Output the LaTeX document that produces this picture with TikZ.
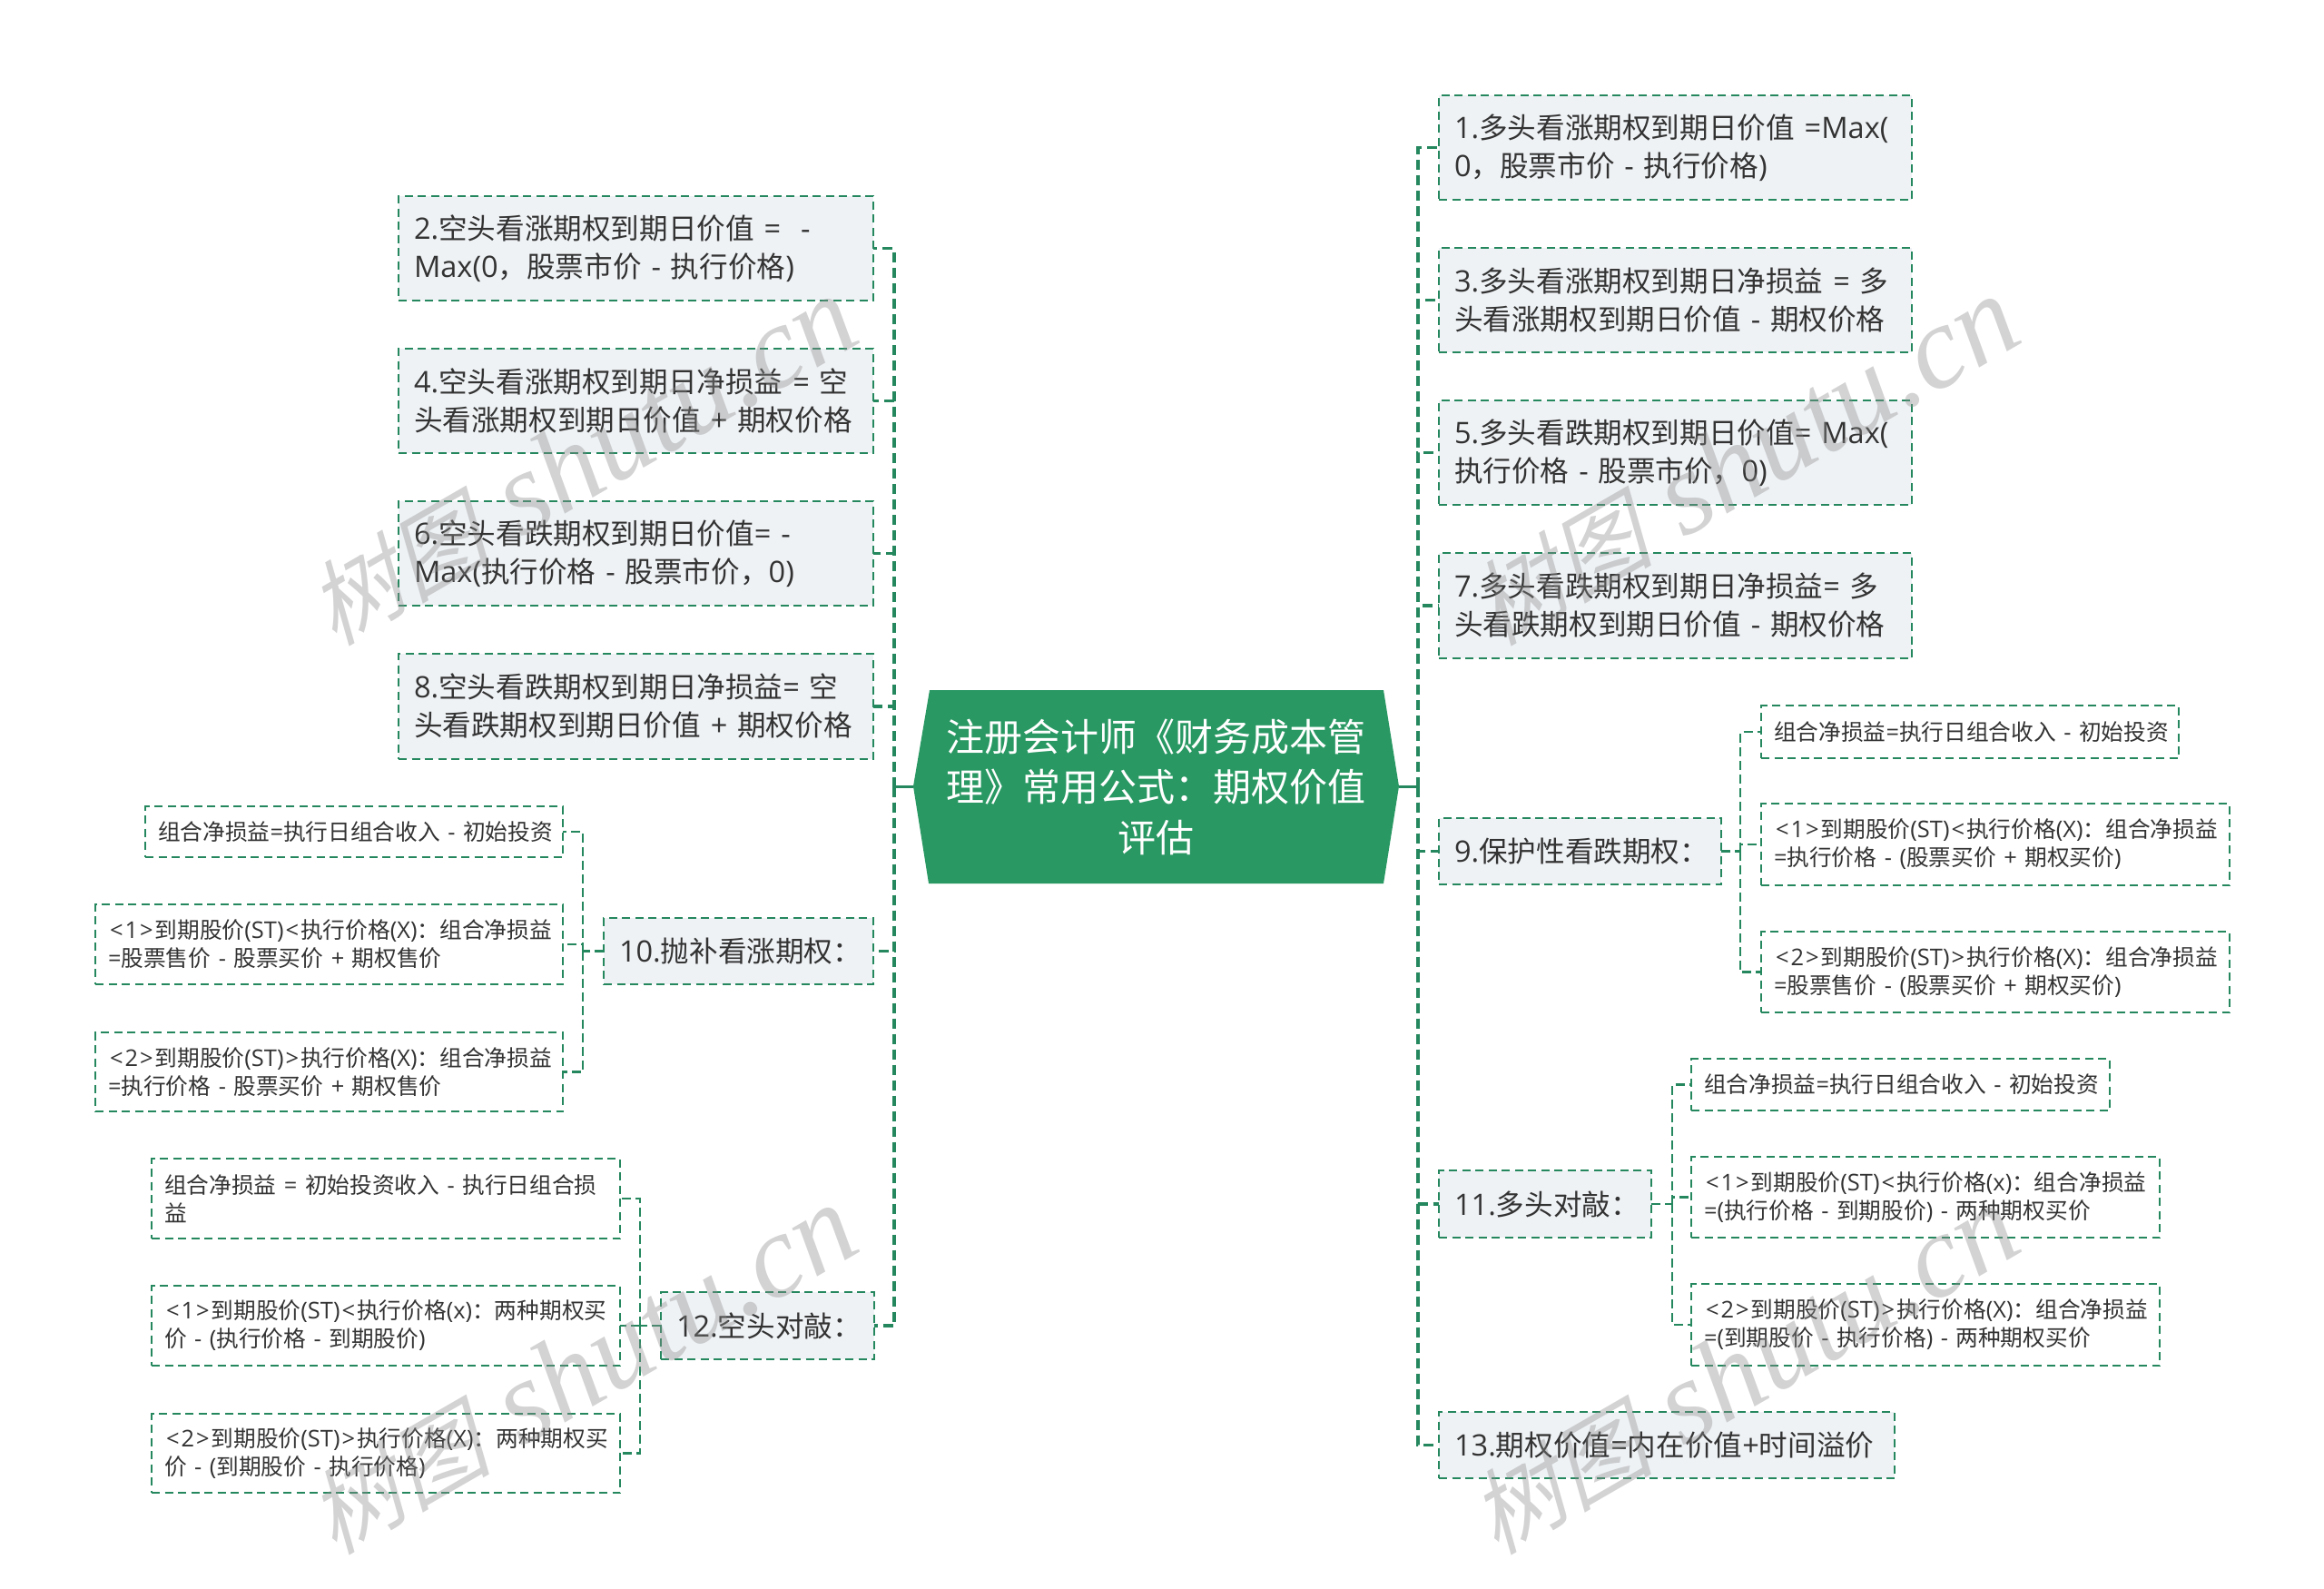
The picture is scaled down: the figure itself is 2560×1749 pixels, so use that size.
\documentclass[tikz,border=0pt]{standalone}
\usepackage{fontspec}
\setmainfont{Open Sans}[Scale=1.03]
\newfontfamily\cjkf{Noto Sans CJK SC}
\newfontfamily\latf{Open Sans}[Scale=1.03]
\newfontfamily\wmcjk[FakeSlant=0.25,Scale=0.78]{Noto Sans CJK SC}
\newfontfamily\wmlat{Liberation Serif}[ItalicFont=Liberation Serif Italic]
\XeTeXinterchartokenstate=1
\newXeTeXintercharclass\cjkclass
\newcount\cjkloop
\def\cjkrange#1#2{\cjkloop=#1 \loop\XeTeXcharclass\cjkloop=\cjkclass \ifnum\cjkloop<#2 \advance\cjkloop by 1 \repeat}
\cjkrange{"3000}{"303F}
\cjkrange{"4E00}{"9FFF}
\cjkrange{"FF00}{"FFEF}
\XeTeXinterchartoks 0 \cjkclass={\cjkf}
\XeTeXinterchartoks 4095 \cjkclass={\cjkf}
\XeTeXinterchartoks \cjkclass 0={\latf}
\XeTeXinterchartoks 4095 0={\latf}
\newcommand\LT{\kern2pt<\kern2pt}
\newcommand\GT{\kern2pt>\kern2pt}
\definecolor{tgreen}{HTML}{299863}
\definecolor{dgreen}{HTML}{25875E}
\definecolor{bfill}{HTML}{EFF2F5}
\definecolor{ink}{HTML}{333333}
\tikzset{
  anybox/.style={draw=dgreen,line width=2.4pt,dash pattern=on 9pt off 5.5pt,rectangle,outer sep=0pt,align=left,text=ink,inner ysep=0pt},
  mainbox/.style={anybox,fill=bfill,inner xsep=17pt,font=\fontsize{31.6}{42}\selectfont},
  subbox/.style={anybox,fill=white,inner xsep=14pt,font=\fontsize{24.7}{31}\selectfont},
  mainline/.style={draw=dgreen,line width=3.2pt,dash pattern=on 11pt off 6pt},
  subline/.style={draw=dgreen,line width=2.2pt,dash pattern=on 10pt off 5pt},
  rootline/.style={draw=dgreen,line width=3.2pt},
  wm/.style={text=black!45,opacity=0.38,rotate=30,font=\fontsize{130}{130}\selectfont,inner sep=0pt}
}
% name, x1, y1, x2, y2, text
\newcommand\bxm[6]{%
  \pgfmathsetmacro\bxw{#4-#2}\pgfmathsetmacro\bxh{#5-#3}\pgfmathsetmacro\bxt{\bxw-34}%
  \node[mainbox,anchor=north west,minimum width=\bxw pt,minimum height=\bxh pt,text width=\bxt pt] (#1) at (#2,#3) {#6};}
\newcommand\bxs[6]{%
  \pgfmathsetmacro\bxw{#4-#2}\pgfmathsetmacro\bxh{#5-#3}\pgfmathsetmacro\bxt{\bxw-28}%
  \node[subbox,anchor=north west,minimum width=\bxw pt,minimum height=\bxh pt,text width=\bxt pt] (#1) at (#2,#3) {#6};}
\newcommand\wmtext{{\wmcjk\XeTeXinterchartokenstate=0 树图} {\wmlat\itshape\XeTeXinterchartokenstate=0 shutu.cn}}
\begin{document}
\begin{tikzpicture}[x=1pt,y=-1pt]
\useasboundingbox (0,0) rectangle (2560,1749);
% root
\fill[tgreen] (1024,760) -- (1524,760) -- (1541,866) -- (1524,973) -- (1023,973) -- (1006,866) -- cycle;
\node[minimum width=535pt,minimum height=213pt,align=center,text=white,inner sep=0pt,outer sep=0pt,font=\fontsize{42}{55.5}\selectfont] (root) at (1273.5,866.5) {注册会计师《财务成本管\\理》常用公式：期权价值\\评估};
\coordinate (rs) at (1562,866.5);
\coordinate (ls) at (985,866.5);
% right main
\bxm{n1}{1585}{105}{2106}{220}{1.多头看涨期权到期日价值~=Max(\\0，股票市价~-~执行价格)}
\bxm{n3}{1585}{273}{2106}{388}{3.多头看涨期权到期日净损益~=~多\\头看涨期权到期日价值~-~期权价格}
\bxm{n5}{1585}{441}{2106}{556}{5.多头看跌期权到期日价值=~Max(\\执行价格~-~股票市价，0)}
\bxm{n7}{1585}{609}{2106}{725}{7.多头看跌期权到期日净损益=~多\\头看跌期权到期日价值~-~期权价格}
\bxm{n9}{1585}{901}{1896}{974}{9.保护性看跌期权：}
\bxm{n11}{1585}{1289}{1819}{1363}{11.多头对敲：}
\bxm{n13}{1585}{1555}{2087}{1628}{13.期权价值=内在价值+时间溢价}
% left main
\bxm{n2}{439}{216}{962}{331}{2.空头看涨期权到期日价值~=~~-\\Max(0，股票市价~-~执行价格)}
\bxm{n4}{439}{384}{962}{499}{4.空头看涨期权到期日净损益~=~空\\头看涨期权到期日价值~+~期权价格}
\bxm{n6}{439}{552}{962}{667}{6.空头看跌期权到期日价值=~-\\Max(执行价格~-~股票市价，0)}
\bxm{n8}{439}{720}{962}{836}{8.空头看跌期权到期日净损益=~空\\头看跌期权到期日价值~+~期权价格}
\bxm{n10}{665}{1011}{962}{1084}{10.抛补看涨期权：}
\bxm{n12}{728}{1423}{963}{1497}{12.空头对敲：}
% sub of 9
\bxs{a1}{1940}{777}{2400}{835}{\mbox{组合净损益=执行日组合收入~-~初始投资}}
\bxs{a2}{1940}{885}{2456}{975}{\LT 1\GT 到期股价(ST)\LT 执行价格(X)：组合净损益\\=执行价格~-~(股票买价~+~期权买价)}
\bxs{a3}{1940}{1026}{2456}{1115}{\LT 2\GT 到期股价(ST)\GT 执行价格(X)：组合净损益\\=股票售价~-~(股票买价~+~期权买价)}
% sub of 11
\bxs{b1}{1863}{1166}{2324}{1223}{\mbox{组合净损益=执行日组合收入~-~初始投资}}
\bxs{b2}{1863}{1274}{2379}{1363}{\LT 1\GT 到期股价(ST)\LT 执行价格(x)：组合净损益\\=(执行价格~-~到期股价)~-~两种期权买价}
\bxs{b3}{1863}{1414}{2379}{1504}{\LT 2\GT 到期股价(ST)\GT 执行价格(X)：组合净损益\\=(到期股价~-~执行价格)~-~两种期权买价}
% sub of 10
\bxs{c1}{160}{888}{620}{944}{\mbox{组合净损益=执行日组合收入~-~初始投资}}
\bxs{c2}{105}{996}{620}{1084}{\LT 1\GT 到期股价(ST)\LT 执行价格(X)：组合净损益\\=股票售价~-~股票买价~+~期权售价}
\bxs{c3}{105}{1137}{620}{1224}{\LT 2\GT 到期股价(ST)\GT 执行价格(X)：组合净损益\\=执行价格~-~股票买价~+~期权售价}
% sub of 12
\bxs{d1}{167}{1276}{683}{1364}{组合净损益~=~初始投资收入~-~执行日组合损\\益}
\bxs{d2}{167}{1416}{683}{1504}{\LT 1\GT 到期股价(ST)\LT 执行价格(x)：两种期权买\\价~-~(执行价格~-~到期股价)}
\bxs{d3}{167}{1557}{683}{1644}{\LT 2\GT 到期股价(ST)\GT 执行价格(X)：两种期权买\\价~-~(到期股价~-~执行价格)}
% connectors
\draw[rootline] (root.east) -- (rs);
\draw[rootline] (root.west) -- (ls);
\foreach \t in {n1,n3,n5,n7,n9,n11,n13}{\draw[mainline] (rs) |- (\t.west);}
\foreach \t in {n2,n4,n6,n8,n10,n12}{\draw[mainline] (ls) |- (\t.east);}
\coordinate (j9) at (1917,937.5);
\draw[subline] (n9.east) -- (j9);
\foreach \t in {a1,a2,a3}{\draw[subline] (j9) |- (\t.west);}
\coordinate (j11) at (1842,1326);
\draw[subline] (n11.east) -- (j11);
\foreach \t in {b1,b2,b3}{\draw[subline] (j11) |- (\t.west);}
\coordinate (j10) at (642,1047.5);
\draw[subline] (n10.west) -- (j10);
\foreach \t in {c1,c2,c3}{\draw[subline] (j10) |- (\t.east);}
\coordinate (j12) at (705,1460);
\draw[subline] (n12.west) -- (j12);
\foreach \t in {d1,d2,d3}{\draw[subline] (j12) |- (\t.east);}
% watermarks
\node[wm] (w1) at (640,508) {\wmtext};
\node[wm] (w2) at (1920,508) {\wmtext};
\node[wm] (w3) at (640,1509) {\wmtext};
\node[wm] (w4) at (1920,1509) {\wmtext};
\end{tikzpicture}
\end{document}
